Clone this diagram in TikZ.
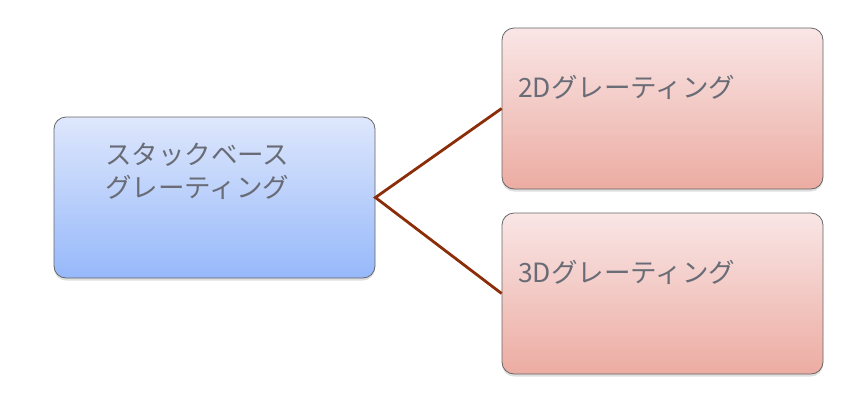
\documentclass[tikz,border=0pt]{standalone}
\usepackage{fontspec}
\newfontfamily\cjk{Noto Sans CJK JP}
\usetikzlibrary{shadows}
\definecolor{txtgray}{RGB}{105,108,118}
\definecolor{linkbrown}{RGB}{140,45,10}
\begin{document}
\begin{tikzpicture}[x=1pt,y=-1pt,
    box/.style={draw=black!60,line width=0.8pt,rounded corners=12pt,minimum width=321pt,minimum height=161pt,drop shadow={opacity=0.25,shadow xshift=0pt,shadow yshift=-2.5pt}},
    bluebox/.style={box,top color={rgb,255:red,222;green,231;blue,252},bottom color={rgb,255:red,150;green,184;blue,250}},
    redbox/.style={box,top color={rgb,255:red,249;green,230;blue,230},bottom color={rgb,255:red,236;green,172;blue,162}},
    txt/.style={font=\cjk\fontsize{26.5}{33}\selectfont,text=txtgray,align=left,anchor=west,inner sep=0pt},
    link/.style={draw=linkbrown,line width=2.8pt}]
      \useasboundingbox (0,0) rectangle (860,400);
      \node[bluebox] (stack) at (214.5,197.5) {};
      \node[redbox] (grat2d) at (662.5,108.5) {};
      \node[redbox] (grat3d) at (662.5,293.5) {};
      \draw[link] (grat2d.west) -- (stack.east) -- (grat3d.west);
      \node[txt] (stacktxt) at (105,171) {スタックベース\\グレーティング};
      \node[txt] (txt2d) at (518,87) {2Dグレーティング};
      \node[txt] (txt3d) at (518,272) {3Dグレーティング};
    \end{tikzpicture}
\end{document}
